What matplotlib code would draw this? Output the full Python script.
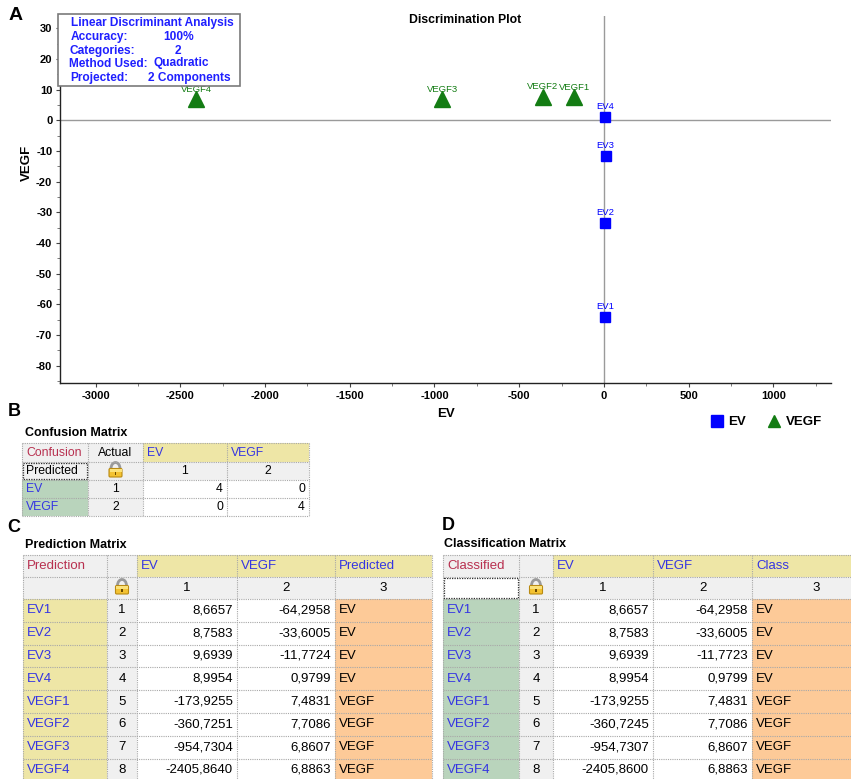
import matplotlib
matplotlib.use("Agg")
import matplotlib.pyplot as plt
from matplotlib.patches import Rectangle, FancyBboxPatch, Arc
from matplotlib.lines import Line2D
from matplotlib.ticker import MultipleLocator

plt.rcParams['font.family'] = ['Liberation Sans', 'DejaVu Sans']
plt.rcParams['axes.unicode_minus'] = False

W, H = 851, 779

# ---------------- data ----------------
sample_names = ["EV1", "EV2", "EV3", "EV4", "VEGF1", "VEGF2", "VEGF3", "VEGF4"]
sample_index = [1, 2, 3, 4, 5, 6, 7, 8]
group_names = ["EV", "VEGF"]
group_of_sample = ["EV", "EV", "EV", "EV", "VEGF", "VEGF", "VEGF", "VEGF"]

# prediction matrix scores (component 1 = EV, component 2 = VEGF)
pred_ev = [8.6657, 8.7583, 9.6939, 8.9954, -173.9255, -360.7251, -954.7304, -2405.8640]
pred_vegf = [-64.2958, -33.6005, -11.7724, 0.9799, 7.4831, 7.7086, 6.8607, 6.8863]
pred_class = ["EV", "EV", "EV", "EV", "VEGF", "VEGF", "VEGF", "VEGF"]

# classification matrix scores
cls_ev = [8.6657, 8.7583, 9.6939, 8.9954, -173.9255, -360.7245, -954.7307, -2405.8600]
cls_vegf = [-64.2958, -33.6005, -11.7723, 0.9799, 7.4831, 7.7086, 6.8607, 6.8863]
cls_class = ["EV", "EV", "EV", "EV", "VEGF", "VEGF", "VEGF", "VEGF"]

# confusion matrix (rows: predicted, columns: actual)
confusion = [[4, 0], [0, 4]]

info_keys = ["Accuracy:", "Categories:", "Method Used:", "Projected:"]
info_vals = ["100%", "2", "Quadratic", "2 Components"]

x_ticks = [-3000, -2500, -2000, -1500, -1000, -500, 0, 500, 1000]
y_ticks = [-80, -70, -60, -50, -40, -30, -20, -10, 0, 10, 20, 30]

# ---------------- styles ----------------
BLUE_MARK = "#0000ff"
GREEN_MARK = "#137c13"
INFO_BLUE = "#1f1fff"
GRAY_CELL = "#f0f0f0"
YELLOW_CELL = "#eee6a6"
GREEN_CELL = "#b9d4bc"
ORANGE_CELL = "#fdca98"
WHITE_CELL = "#ffffff"
CRIMSON = "#b8304f"
LABEL_BLUE = "#3535e2"
GRID_GRAY = "#a8a8a8"

fig = plt.figure(figsize=(W / 100, H / 100), dpi=100)


def px_box(x0, y0, x1, y1):
    return [x0 / W, 1 - y1 / H, (x1 - x0) / W, (y1 - y0) / H]


# ---------------- discrimination plot ----------------
ax = fig.add_axes(px_box(60, 16, 831, 383))
ax.set_xlim(-3210, 1340)
ax.set_ylim(-85.7, 34.0)
for s in ("top", "right"):
    ax.spines[s].set_visible(False)
for s in ("left", "bottom"):
    ax.spines[s].set_color("#222222")
    ax.spines[s].set_linewidth(1.0)

ax.axhline(0, color="#9a9a9a", lw=1.0, zorder=1)
ax.axvline(0, color="#9a9a9a", lw=1.0, zorder=1)

ax.set_xticks(x_ticks)
ax.set_yticks(y_ticks)
ax.xaxis.set_minor_locator(MultipleLocator(250))
ax.yaxis.set_minor_locator(MultipleLocator(5))
ax.tick_params(which="major", length=3, width=0.8, color="#444444", labelsize=8, pad=2.5)
ax.tick_params(which="minor", length=2, width=0.6, color="#666666")
for lab in ax.get_xticklabels() + ax.get_yticklabels():
    lab.set_fontweight("bold")

ax.set_xlabel("EV", fontsize=9.5, fontweight="bold", labelpad=5)
fig.text(27 / W, 1 - 163 / H, "VEGF", rotation=90, fontsize=9.5, fontweight="bold",
         ha="center", va="center")
fig.text(465 / W, 1 - 20 / H, "Discrimination Plot", fontsize=8.8, fontweight="bold",
         ha="center", va="center")

style = {"EV": dict(marker="s", color=BLUE_MARK, ms=6.5, off=7.5),
         "VEGF": dict(marker="^", color=GREEN_MARK, ms=11, off=7.2)}
for name, xv, yv, g in zip(sample_names, pred_ev, pred_vegf, group_of_sample):
    st = style[g]
    ax.plot(xv, yv, ls="none", marker=st["marker"], color=st["color"],
            markersize=st["ms"], zorder=3, clip_on=False)
    ax.annotate(name, (xv, yv), xytext=(0, st["off"]), textcoords="offset points",
                ha="center", va="center", fontsize=6.8, color=st["color"])

handles = [Line2D([], [], ls="none", marker="s", color=BLUE_MARK, markersize=8),
           Line2D([], [], ls="none", marker="^", color=GREEN_MARK, markersize=9)]
fig.legend(handles, group_names, loc="center right",
           bbox_to_anchor=(834 / W, 1 - 422 / H), ncol=2, frameon=False,
           prop=dict(weight="bold", size=9.5), handlelength=1.0,
           handletextpad=0.4, columnspacing=1.6)

# ---------------- overlay in pixel coordinates ----------------
ov = fig.add_axes([0, 0, 1, 1])
ov.set_xlim(0, W)
ov.set_ylim(H, 0)
ov.axis("off")
ov.set_zorder(5)

# info box
ov.add_patch(Rectangle((58, 14), 182, 72, facecolor="white", edgecolor="#7a7a7a", lw=1.2))
ov.text(71, 22.5, "Linear Discriminant Analysis", color=INFO_BLUE, fontsize=8.6,
        fontweight="bold", va="center", ha="left")
key_x = [71, 70, 69, 70]
val_x = [163, 175, 153, 148]
row_y = [36.5, 50.5, 64, 78]
for k, v, kx, vx, ry in zip(info_keys, info_vals, key_x, val_x, row_y):
    ov.text(kx, ry, k, color=INFO_BLUE, fontsize=8.6, fontweight="bold", va="center", ha="left")
    ov.text(vx, ry - 1.5 if k == "Method Used:" else ry, v, color=INFO_BLUE, fontsize=8.6,
            fontweight="bold", va="center", ha="left")

# panel letters and table titles
ov.text(9, 15, "A", fontsize=14, fontweight="bold", va="center", ha="left")
ov.text(8, 411, "B", fontsize=13, fontweight="bold", va="center", ha="left")
ov.text(7, 527, "C", fontsize=13, fontweight="bold", va="center", ha="left")
ov.text(442, 526, "D", fontsize=13, fontweight="bold", va="center", ha="left")
ov.text(25, 433, "Confusion Matrix", fontsize=9, fontweight="bold", va="center", ha="left")
ov.text(25, 545, "Prediction Matrix", fontsize=9, fontweight="bold", va="center", ha="left")
ov.text(444, 544, "Classification Matrix", fontsize=9, fontweight="bold", va="center", ha="left")


def draw_lock(cx, cy, scale=1.0):
    s = scale
    ov.add_patch(Arc((cx, cy - 1.5 * s), 9 * s, 12 * s, theta1=180, theta2=360,
                     color="#9a9a9a", lw=2.0 * s))
    ov.add_patch(FancyBboxPatch((cx - 6.5 * s, cy - 1.5 * s), 13 * s, 8.5 * s,
                                boxstyle="round,pad=0,rounding_size=1.2",
                                facecolor="#f3c232", edgecolor="#b98a12", lw=0.8))
    ov.add_patch(Rectangle((cx - 6 * s, cy - 1 * s), 12 * s, 2.5 * s,
                           facecolor="#fbe27a", edgecolor="none"))
    ov.add_patch(Rectangle((cx - 0.8 * s, cy + 2 * s), 1.6 * s, 2.5 * s,
                           facecolor="#6b4a00", edgecolor="none"))


def cell(text="", bg=WHITE_CELL, fg="black", ha="left", sel=False):
    return dict(text=text, bg=bg, fg=fg, ha=ha, sel=sel)


def draw_table(xs, ys, rows, fontsize):
    for r, row in enumerate(rows):
        for c, spec in enumerate(row):
            x0, x1 = xs[c], xs[c + 1]
            y0, y1 = ys[r], ys[r + 1]
            ov.add_patch(Rectangle((x0, y0), x1 - x0, y1 - y0, facecolor=spec["bg"],
                                   edgecolor="none", zorder=1))
            yc = (y0 + y1) / 2
            if spec["text"] == "<lock>":
                draw_lock((x0 + x1) / 2, yc - 1)
            elif spec["text"]:
                if spec["ha"] == "left":
                    tx = x0 + 4
                elif spec["ha"] == "right":
                    tx = x1 - 4
                else:
                    tx = (x0 + x1) / 2
                ov.text(tx, yc, spec["text"], ha=spec["ha"], va="center",
                        fontsize=fontsize, color=spec["fg"], zorder=3,
                        family=["Liberation Sans", "DejaVu Sans"])
            if spec["sel"]:
                ov.add_patch(Rectangle((x0 + 1, y0 + 1), x1 - x0 - 2, y1 - y0 - 2,
                                       facecolor="none", edgecolor="#303030",
                                       lw=0.9, ls=(0, (1, 1)), zorder=4))
    for x in xs:
        ov.plot([x, x], [ys[0], ys[-1]], color=GRID_GRAY, lw=0.8, ls=(0, (1, 1)), zorder=2)
    for y in ys:
        ov.plot([xs[0], xs[-1]], [y, y], color=GRID_GRAY, lw=0.8, ls=(0, (1, 1)), zorder=2)


def fmt(v):
    return f"{v:.4f}".replace(".", ",")


# ---- B: confusion matrix ----
b_rows = [
    [cell("Confusion", GRAY_CELL, CRIMSON), cell("Actual", GRAY_CELL, "black", "center")]
    + [cell(g, YELLOW_CELL, LABEL_BLUE) for g in group_names],
    [cell("Predicted", GRAY_CELL, "black", sel=True), cell("<lock>", GRAY_CELL)]
    + [cell(str(i + 1), GRAY_CELL, "black", "center") for i in range(len(group_names))],
]
for i, g in enumerate(group_names):
    b_rows.append([cell(g, GREEN_CELL, LABEL_BLUE), cell(str(i + 1), GRAY_CELL, "black", "center")]
                  + [cell(str(v), WHITE_CELL, "black", "right") for v in confusion[i]])
draw_table([22, 88, 143, 227, 309], [443, 462, 480, 498, 516], b_rows, 8.8)

# ---- C / D: prediction and classification matrices ----
row_h = 22.8
data_ys = [555, 577] + [599 + k * row_h for k in range(len(sample_names) + 1)]


def score_rows(corner, last_header, label_bg, ev_vals, vegf_vals, classes, corner_sel):
    rows = [
        [cell(corner, GRAY_CELL, CRIMSON), cell("", GRAY_CELL),
         cell("EV", YELLOW_CELL, LABEL_BLUE), cell("VEGF", YELLOW_CELL, LABEL_BLUE),
         cell(last_header, YELLOW_CELL, LABEL_BLUE)],
        [cell("", WHITE_CELL if corner_sel else GRAY_CELL, sel=corner_sel),
         cell("<lock>", GRAY_CELL)]
        + [cell(str(k), GRAY_CELL, "black", "center") for k in (1, 2, 3)],
    ]
    for name, idx, e, v, c in zip(sample_names, sample_index, ev_vals, vegf_vals, classes):
        rows.append([cell(name, label_bg, LABEL_BLUE),
                     cell(str(idx), GRAY_CELL, "black", "center"),
                     cell(fmt(e), WHITE_CELL, "black", "right"),
                     cell(fmt(v), WHITE_CELL, "black", "right"),
                     cell(c, ORANGE_CELL, "black", "left")])
    return rows


draw_table([23, 107, 137, 237, 335, 432], data_ys,
           score_rows("Prediction", "Predicted", YELLOW_CELL, pred_ev, pred_vegf, pred_class, False), 9.5)
draw_table([443, 519, 553, 653, 752, 880], data_ys,
           score_rows("Classified", "Class", GREEN_CELL, cls_ev, cls_vegf, cls_class, True), 9.5)

fig.savefig("out.png", dpi=100)
